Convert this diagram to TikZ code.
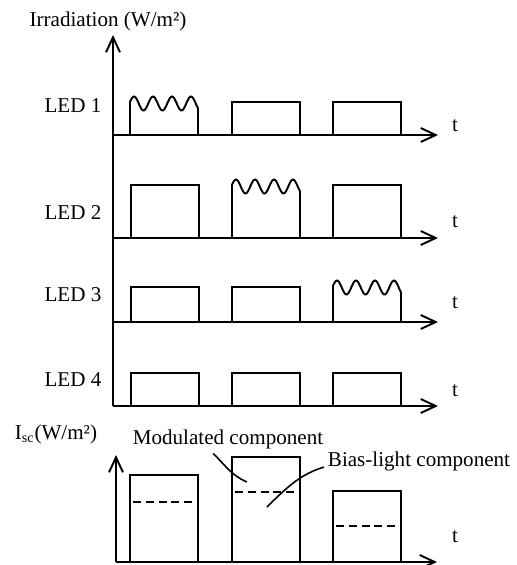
\documentclass[tikz,border=0pt]{standalone}
\usepackage{fontspec}
\setmainfont{Liberation Serif}
\usetikzlibrary{arrows.meta,calc}

\begin{document}
\begin{tikzpicture}[x=0.02cm,y=-0.02cm,line width=1.1pt,>={Straight Barb[length=3mm,width=2.8mm]},
  lbl/.style={font=\fontsize{12}{14}\selectfont,inner sep=0pt},
  level/.style={line width=0.8pt,dash pattern=on 4.5pt off 2.8pt},
  leader/.style={line width=0.9pt}]
\useasboundingbox (0,0) rectangle (517,565);
% irradiation axes, one time axis per LED
\coordinate (O) at (113,406);
\coordinate (top) at (113,35);
\draw[->] (O) -- (top);
\node[lbl] (irr) at (108,21) {Irradiation (W/m²)};
\foreach \n/\yb/\yl/\yt in {1/135/106/126,2/238/213/222,3/322/295/303,4/406/380/391}{
  \coordinate (b\n) at (113,\yb);
  \coordinate (e\n) at (438,\yb);
  \draw[->] (b\n) -- (e\n);
  \node[lbl] (led\n) at (73,\yl) {LED \n};
  \node[lbl] (t\n) at (455,\yt) {t};
}
% plain pulses
\foreach \xa/\yb/\yt in {232/135/102,333/135/102,131/238/185,333/238/185,131/322/287,232/322/287,131/406/373,232/406/373,333/406/373}
  \draw[line join=miter] (\xa,\yb) |- (\xa+68,\yt) -- (\xa+68,\yb);
% modulated pulses
\foreach \xa/\yb/\yt in {130/135/103.5,232/238/186.5,333/322/287.5}
  \draw (\xa,\yb) -- plot[variable=\s,domain=0:68,samples=90,smooth] ({\xa+\s},{\yt-7*cos((\s-4)*18.95)}) -- (\xa+68,\yb);

% short-circuit current
\coordinate (O2) at (116,562);
\coordinate (top2) at (116,455);
\coordinate (e5) at (437,562);
\draw[->] (O2) -- (top2);
\draw[->] (O2) -- (e5);
\node[lbl] (isc) at (56,434) {I\textsubscript{sc}(W/m²)};
\node[lbl] (t5) at (455,537) {t};
\foreach \xa/\yt/\yd/\w in {130/475/502/0.8pt,232/457/492/1.3pt,333/491/526/0.8pt}{
  \draw[line join=miter] (\xa,562) |- (\xa+68,\yt) -- (\xa+68,562);
  \draw[level,line width=\w] (\xa+3,\yd) -- (\xa+67,\yd);
}
\node[lbl] (mod) at (228,439) {Modulated component};
\node[lbl] (bias) at (419,461) {Bias-light component};
\coordinate (modend) at (247,482);
\coordinate (biasend) at (267,507);
\draw[leader] ($(mod.south)+(-15,4)$) .. controls (221,460) and (230,475) .. (modend);
\draw[leader] ($(bias.west)+(-3,6)$) .. controls (302,474) and (290,484) .. (biasend);
\end{tikzpicture}
\end{document}
